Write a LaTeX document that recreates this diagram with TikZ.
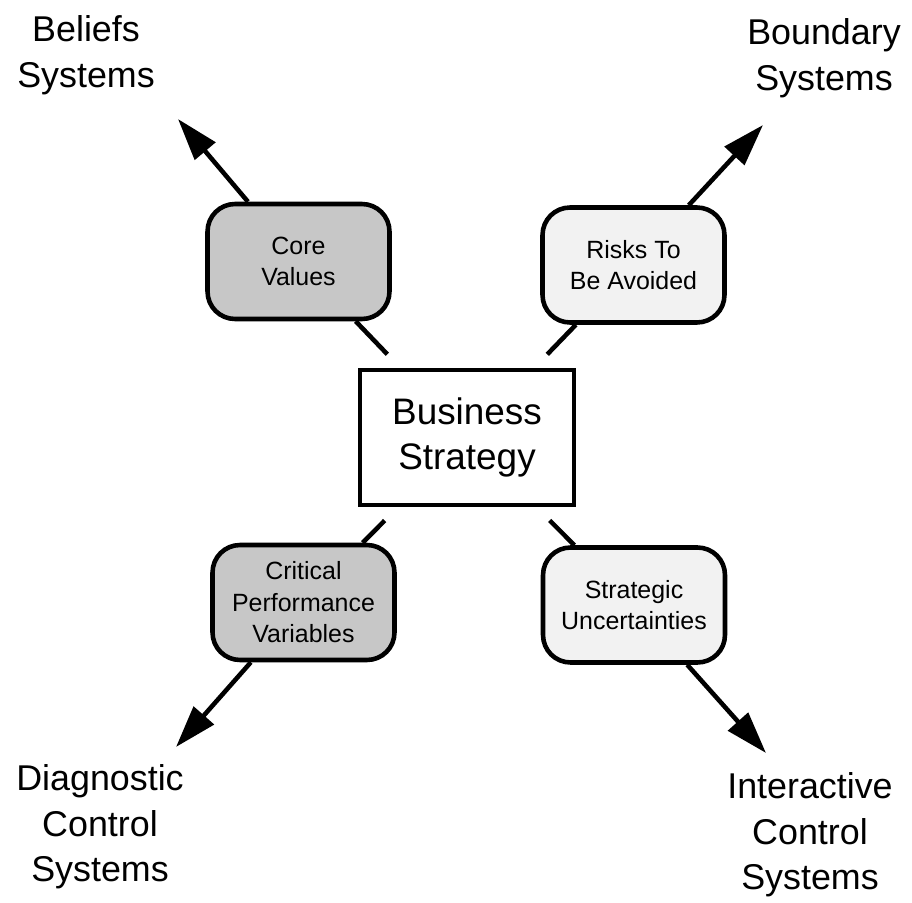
\documentclass[tikz,border=0pt]{standalone}
\usepackage{fontspec}
\setmainfont{Liberation Sans}
\usetikzlibrary{arrows.meta}

\begin{document}
\begin{tikzpicture}[x=0.02cm, y=-0.02cm,
  lever/.style={draw, line width=2.6pt, rounded corners=0.55cm, minimum width=3.64cm,
    minimum height=2.3cm, align=center, inner sep=0pt, font=\fontsize{14.2}{17.9}\selectfont},
  darklever/.style={lever, fill=black!22},
  lightlever/.style={lever, fill=black!5},
  system/.style={align=center, anchor=north, inner sep=0pt, font=\fontsize{20.4}{26}\selectfont},
  link/.style={line width=2.6pt, shorten <=0.38cm},
  arrow/.style={line width=2.6pt, -{Triangle[length=24pt, width=15pt]}}]
\useasboundingbox (0,0) rectangle (912,902);
\node[draw, line width=2.3pt, minimum width=4.28cm, minimum height=2.7cm, align=center,
  font=\fontsize{21}{25.5}\selectfont] (strategy) at (467,437.5) {Business\\Strategy};
\node[darklever] (values) at (298.5,261.5) {Core\\Values};
\node[lightlever] (risks) at (633.5,265) {Risks To\\Be Avoided};
\node[darklever] (variables) at (303.5,602.5) {Critical\\Performance\\Variables};
\node[lightlever] (uncertain) at (634,605) {Strategic\\Uncertainties};
\node[system] (beliefs) at (86,15) {Beliefs\\Systems};
\node[system] (boundary) at (824,18) {Boundary\\Systems};
\node[system] (diagnostic) at (100,764) {Diagnostic\\Control\\Systems};
\node[system] (interactive) at (810,772) {Interactive\\Control\\Systems};
\coordinate (beliefs tip) at (178,119);
\coordinate (boundary tip) at (763,125);
\coordinate (diagnostic tip) at (176,747);
\coordinate (interactive tip) at (766,753);
\draw[link] (strategy) -- (values);
\draw[link] (strategy) -- (risks);
\draw[link] (strategy) -- (variables);
\draw[link] (strategy) -- (uncertain);
\draw[arrow] (values) -- (beliefs tip);
\draw[arrow] (risks) -- (boundary tip);
\draw[arrow] (variables) -- (diagnostic tip);
\draw[arrow] (uncertain) -- (interactive tip);
\end{tikzpicture}
\end{document}
